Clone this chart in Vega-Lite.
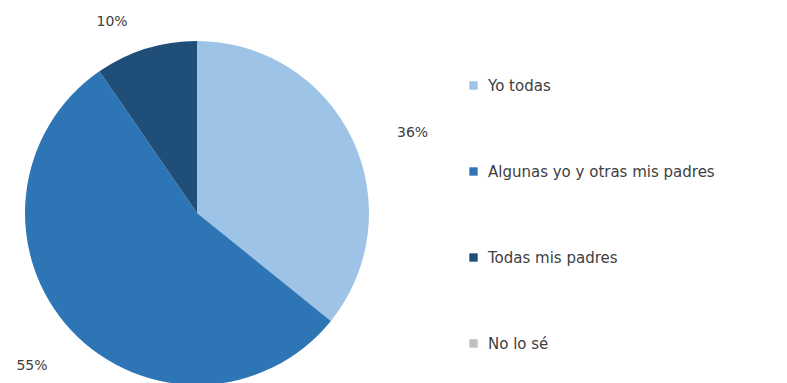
{
  "$schema": "https://vega.github.io/schema/vega-lite/v6.json",
  "width": 394,
  "height": 426,
  "autosize": "none",
  "padding": {"left": 0, "top": 0, "right": 393, "bottom": 0},
  "background": "white",
  "config": {"view": {"stroke": null}, "font": "DejaVu Sans"},
  "data": {
    "values": [
      {"categoria": "Yo todas", "valor": 35.8, "orden": 1, "etiqueta": "36%"},
      {"categoria": "Algunas yo y otras mis padres", "valor": 54.6, "orden": 2, "etiqueta": "55%"},
      {"categoria": "Todas mis padres", "valor": 9.6, "orden": 3, "etiqueta": "10%"},
      {"categoria": "No lo sé", "valor": 0, "orden": 4, "etiqueta": ""}
    ]
  },
  "encoding": {
    "theta": {"field": "valor", "type": "quantitative", "stack": true},
    "order": {"field": "orden", "type": "quantitative"}
  },
  "layer": [
    {
      "mark": {"type": "arc", "outerRadius": 172},
      "encoding": {
        "color": {
          "field": "categoria",
          "type": "nominal",
          "scale": {
            "domain": ["Yo todas", "Algunas yo y otras mis padres", "Todas mis padres", "No lo sé"],
            "range": ["#9dc3e6", "#2e75b6", "#1f4e79", "#bfbfbf"]
          },
          "legend": {
            "title": null,
            "orient": "none",
            "legendX": 466,
            "legendY": 78,
            "symbolType": "square",
            "symbolSize": 70,
            "symbolStrokeWidth": 0,
            "labelFont": "DejaVu Sans",
            "labelFontSize": 15,
            "labelColor": "#404040",
            "labelOffset": 7,
            "rowPadding": 70,
            "labelLimit": 400
          }
        }
      }
    },
    {
      "mark": {"type": "text", "radius": 230, "thetaOffset": 0.09, "font": "DejaVu Sans", "fontSize": 14, "color": "#404040"},
      "encoding": {"text": {"condition": {"test": "datum.orden == 1", "field": "etiqueta"}, "value": ""}}
    },
    {
      "mark": {"type": "text", "radius": 225, "font": "DejaVu Sans", "fontSize": 14, "color": "#404040"},
      "encoding": {"text": {"condition": {"test": "datum.orden == 2", "field": "etiqueta"}, "value": ""}}
    },
    {
      "mark": {"type": "text", "radius": 209, "thetaOffset": -0.117, "font": "DejaVu Sans", "fontSize": 14, "color": "#404040"},
      "encoding": {"text": {"condition": {"test": "datum.orden == 3", "field": "etiqueta"}, "value": ""}}
    }
  ]
}
